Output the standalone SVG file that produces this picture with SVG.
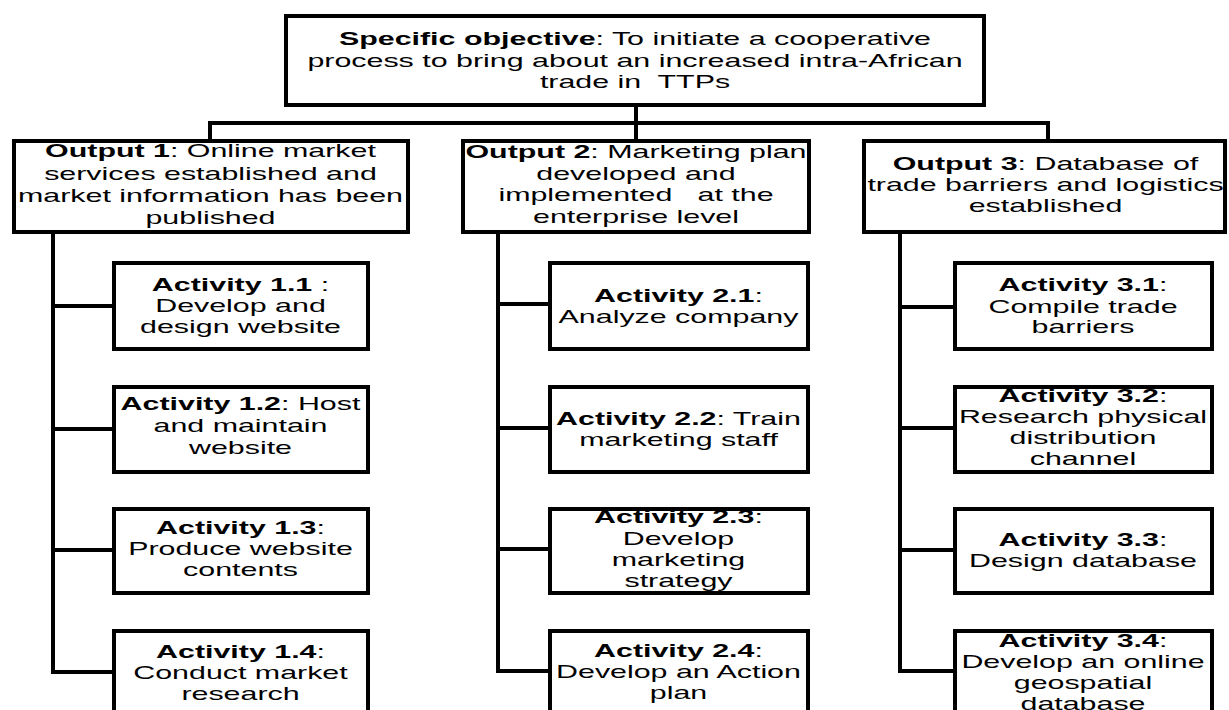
<svg xmlns="http://www.w3.org/2000/svg" width="1229" height="710" viewBox="0 0 1229 710">
<style>
rect{fill:#fff;stroke:#000;stroke-width:4}
.c path{fill:none;stroke:#000;stroke-width:4;stroke-linecap:square}
text{font-family:"Liberation Sans",Arial,sans-serif;font-size:19px;fill:#000;text-anchor:middle}
.b{font-weight:bold}
</style>
<rect x="0" y="0" width="1229" height="710" style="stroke:none"/>
<g class="c" id="connectors">
<path d="M636 105V141"/>
<path d="M210 123H1048"/>
<path d="M210 123V141"/>
<path d="M1048 123V141"/>
<path d="M53 232V672"/>
<path d="M53 306H114M53 429H114M53 550H114M53 672H114"/>
<path d="M498 232V671"/>
<path d="M498 304H550M498 428H550M498 549H550M498 671H550"/>
<path d="M900 232V671"/>
<path d="M900 307H955M900 428H955M900 550H955M900 671H955"/>
</g>
<g id="objective">
<rect x="286" y="16" width="698" height="89"/>
<g transform="scale(1.6 1)">
<text x="396.875" y="45"><tspan class="b">Specific objective</tspan>: To initiate a cooperative</text>
<text x="396.875" y="67">process to bring about an increased intra-African</text>
<text x="396.875" y="88" xml:space="preserve">trade in  TTPs</text>
</g>
</g>
<g id="output1">
<rect x="14" y="141" width="394" height="91"/>
<g transform="scale(1.6 1)">
<text x="131.5625" y="157"><tspan class="b">Output 1</tspan>: Online market</text>
<text x="131.5625" y="180">services established and</text>
<text x="131.5625" y="202">market information has been</text>
<text x="131.5625" y="224">published</text>
</g>
</g>
<g id="output2">
<rect x="463" y="141" width="346" height="91"/>
<g transform="scale(1.6 1)">
<text x="397.5" y="158"><tspan class="b">Output 2</tspan>: Marketing plan</text>
<text x="397.5" y="180">developed and</text>
<text x="397.5" y="201" xml:space="preserve">implemented   at the</text>
<text x="397.5" y="223">enterprise level</text>
</g>
</g>
<g id="output3">
<rect x="864" y="141" width="361" height="91"/>
<g transform="scale(1.6 1)">
<text x="653.4375" y="170"><tspan class="b">Output 3</tspan>: Database of</text>
<text x="653.4375" y="191">trade barriers and logistics</text>
<text x="653.4375" y="212">established</text>
</g>
</g>
<g id="act11">
<rect x="114" y="263" width="254" height="86"/>
<g transform="scale(1.6 1)">
<text x="150.3125" y="291"><tspan class="b">Activity 1.1</tspan> :</text>
<text x="150.3125" y="312">Develop and</text>
<text x="150.3125" y="333">design website</text>
</g>
</g>
<g id="act12">
<rect x="114" y="387" width="254" height="85"/>
<g transform="scale(1.6 1)">
<text x="150.3125" y="410"><tspan class="b">Activity 1.2</tspan>: Host</text>
<text x="150.3125" y="432">and maintain</text>
<text x="150.3125" y="454">website</text>
</g>
</g>
<g id="act13">
<rect x="114" y="509" width="254" height="84"/>
<g transform="scale(1.6 1)">
<text x="150.3125" y="534"><tspan class="b">Activity 1.3</tspan>:</text>
<text x="150.3125" y="555">Produce website</text>
<text x="150.3125" y="576">contents</text>
</g>
</g>
<g id="act14">
<rect x="114" y="631" width="254" height="84"/>
<g transform="scale(1.6 1)">
<text x="150.3125" y="658"><tspan class="b">Activity 1.4</tspan>:</text>
<text x="150.3125" y="679">Conduct market</text>
<text x="150.3125" y="700">research</text>
</g>
</g>
<g id="act21">
<rect x="550" y="263" width="258" height="86"/>
<g transform="scale(1.6 1)">
<text x="424.0625" y="302"><tspan class="b">Activity 2.1</tspan>:</text>
<text x="424.0625" y="323">Analyze company</text>
</g>
</g>
<g id="act22">
<rect x="550" y="387" width="258" height="85"/>
<g transform="scale(1.6 1)">
<text x="424.0625" y="425"><tspan class="b">Activity 2.2</tspan>: Train</text>
<text x="424.0625" y="446">marketing staff</text>
</g>
</g>
<g id="act23">
<rect x="550" y="509" width="258" height="84"/>
<g transform="scale(1.6 1)">
<text x="424.0625" y="523"><tspan class="b">Activity 2.3</tspan>:</text>
<text x="424.0625" y="545">Develop</text>
<text x="424.0625" y="566">marketing</text>
<text x="424.0625" y="587">strategy</text>
</g>
</g>
<g id="act24">
<rect x="550" y="631" width="258" height="84"/>
<g transform="scale(1.6 1)">
<text x="424.0625" y="657"><tspan class="b">Activity 2.4</tspan>:</text>
<text x="424.0625" y="678">Develop an Action</text>
<text x="424.0625" y="699">plan</text>
</g>
</g>
<g id="act31">
<rect x="955" y="263" width="257" height="86"/>
<g transform="scale(1.6 1)">
<text x="676.875" y="291"><tspan class="b">Activity 3.1</tspan>:</text>
<text x="676.875" y="313">Compile trade</text>
<text x="676.875" y="333">barriers</text>
</g>
</g>
<g id="act32">
<rect x="955" y="387" width="257" height="85"/>
<g transform="scale(1.6 1)">
<text x="676.875" y="402"><tspan class="b">Activity 3.2</tspan>:</text>
<text x="676.875" y="423">Research physical</text>
<text x="676.875" y="444">distribution</text>
<text x="676.875" y="465">channel</text>
</g>
</g>
<g id="act33">
<rect x="955" y="509" width="257" height="84"/>
<g transform="scale(1.6 1)">
<text x="676.875" y="546"><tspan class="b">Activity 3.3</tspan>:</text>
<text x="676.875" y="567">Design database</text>
</g>
</g>
<g id="act34">
<rect x="955" y="631" width="257" height="84"/>
<g transform="scale(1.6 1)">
<text x="676.875" y="647"><tspan class="b">Activity 3.4</tspan>:</text>
<text x="676.875" y="668">Develop an online</text>
<text x="676.875" y="689">geospatial</text>
<text x="676.875" y="710">database</text>
</g>
</g>
</svg>
